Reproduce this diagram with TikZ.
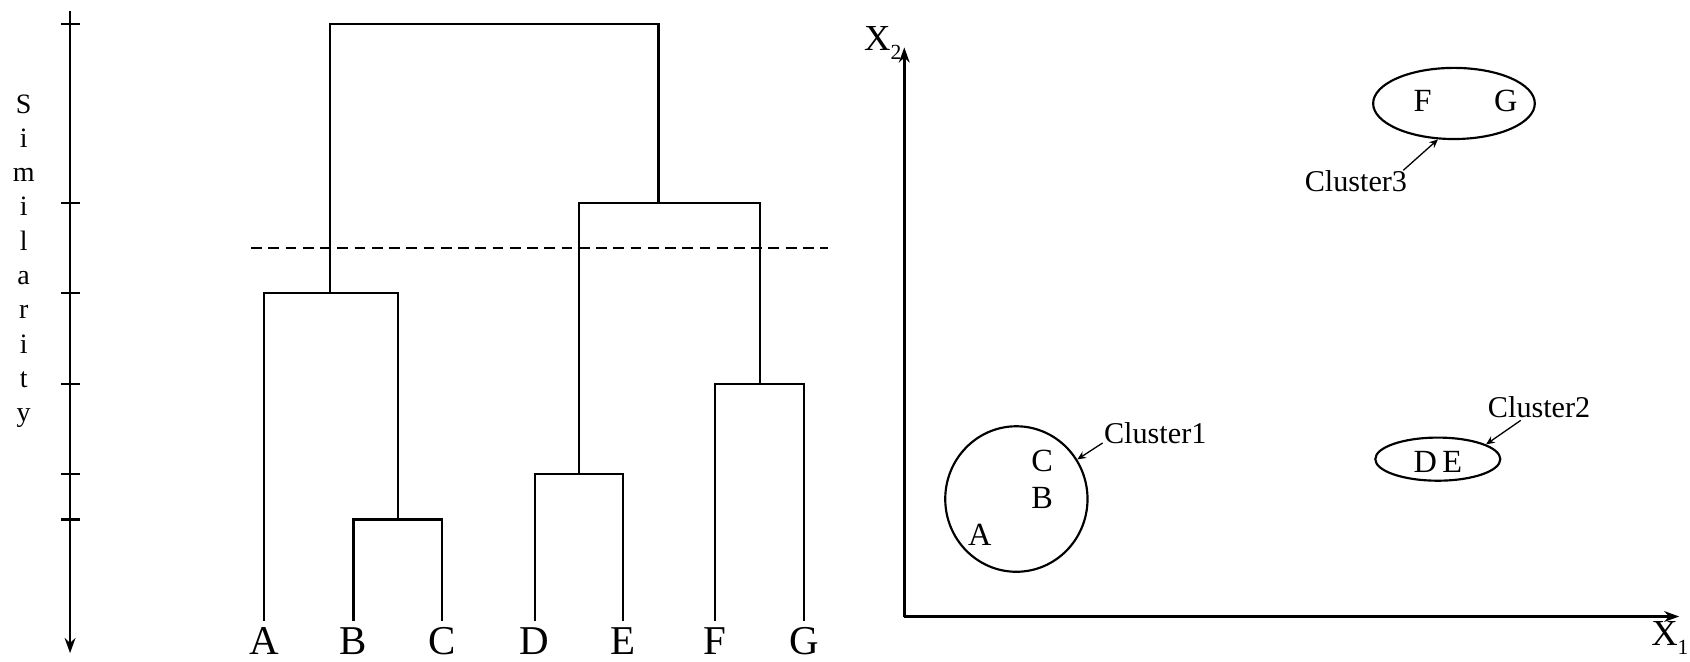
\documentclass[tikz,border=0pt]{standalone}
\usepackage{fontspec}
\setmainfont{Liberation Serif}
\usetikzlibrary{arrows.meta,shapes.geometric}
\newcommand\axsub[1]{\raisebox{-0.5ex}{\fontsize{10}{12}\selectfont #1}}
\begin{document}
\begin{tikzpicture}[x=0.5pt,y=-0.5pt,
  dline/.style={line width=1pt},
  axisline/.style={line width=1.2pt},
  axisarrow/.style={axisline,-{Stealth[length=7pt,width=5pt]}},
  leaflabel/.style={font=\fontsize{19}{22}\selectfont, inner sep=0pt},
  simletter/.style={font=\fontsize{13}{16}\selectfont, inner sep=0pt, anchor=base},
  cutline/.style={line width=1pt, dash pattern=on 5pt off 3pt},
  cluster/.style={draw, ellipse, line width=1pt, inner sep=0pt},
  pointlabel/.style={font=\fontsize{15}{18}\selectfont, inner sep=0pt},
  clusterlabel/.style={font=\fontsize{14}{17}\selectfont, inner sep=0pt},
  pointer/.style={line width=0.6pt, -{Stealth[length=4pt,width=3.5pt]}},
  axislabel/.style={font=\fontsize{17}{20}\selectfont, inner sep=0pt}
]
\useasboundingbox (0,0) rectangle (1568,614);

% ---------- similarity axis ----------
\coordinate (ytop) at (65,10);
\coordinate (ybot) at (65,606);
\draw[axisarrow] (ytop) -- (ybot);
\foreach \t in {22,188,272,356,440,482}
  \draw[dline] (57,\t) -- (74,\t);
\foreach \l [count=\k from 0] in {S,i,m,i,l,a,r,i,t,y}
  \node[simletter] (sim\k) at (22,{105+31.8*\k}) {\l};

% ---------- dendrogram ----------
\coordinate (A) at (245,576);
\coordinate (B) at (328,576);
\coordinate (C) at (410,576);
\coordinate (D) at (496,576);
\coordinate (E) at (578,576);
\coordinate (F) at (663,576);
\coordinate (G) at (746,576);
\coordinate (BC) at (369,482);
\coordinate (ABC) at (306,272);
\coordinate (DE) at (537,440);
\coordinate (FG) at (705,356);
\coordinate (DEFG) at (611,188);
\coordinate (root) at (458.5,22);

\draw[dline] (B) |- (BC) -| (C);
\draw[dline] (A) |- (ABC) -| (BC);
\draw[dline] (D) |- (DE) -| (E);
\draw[dline] (F) |- (FG) -| (G);
\draw[dline] (DE) |- (DEFG) -| (FG);
\draw[dline] (ABC) |- (root) -| (DEFG);

\foreach \n/\x in {A/245,B/328,C/410,D/496,E/578,F/663,G/746}
  \node[leaflabel] (l\n) at (\x,595) {\n};

\coordinate (cutL) at (233,230);
\coordinate (cutR) at (768,230);
\draw[cutline] (cutL) -- (cutR);

% ---------- scatter plot ----------
\coordinate (O) at (839,572);
\coordinate (Ytip) at (839,44);
\coordinate (Xtip) at (1558,572);
\draw[axisarrow] (O) -- (Ytip);
\draw[axisarrow] (O) -- (Xtip);
\node[axislabel] (x2lab) at (819,40) {X\axsub{2}};
\node[axislabel, anchor=east] (x1lab) at (1567,592) {X\axsub{1}};

% cluster 1
\node[cluster, minimum width=66pt, minimum height=67.5pt] (clu1) at (943,463) {};
\node[pointlabel] (pC) at (967,428) {C};
\node[pointlabel] (pB) at (967,462) {B};
\node[pointlabel] (pA) at (909,496) {A};
\node[clusterlabel, anchor=west] (c1lab) at (1024,402) {Cluster1};
\coordinate (c1from) at (1023,411);
\draw[pointer] (c1from) -- (clu1);

% cluster 2
\node[cluster, minimum width=58pt, minimum height=20pt] (clu2) at (1334,426) {};
\node[pointlabel] (pDE) at (1334,429) {D\,E};
\node[clusterlabel] (c2lab) at (1428,378) {Cluster2};
\coordinate (c2from) at (1411,390);
\draw[pointer] (c2from) -- (clu2.17);

% cluster 3
\node[cluster, minimum width=75pt, minimum height=33pt] (clu3) at (1349,96) {};
\node[pointlabel] (pF) at (1320,94) {F};
\node[pointlabel] (pG) at (1397,94) {G};
\node[clusterlabel] (c3lab) at (1258,168) {Cluster3};
\coordinate (c3from) at (1302,158);
\draw[pointer] (c3from) -- (clu3.-114);
\end{tikzpicture}
\end{document}
